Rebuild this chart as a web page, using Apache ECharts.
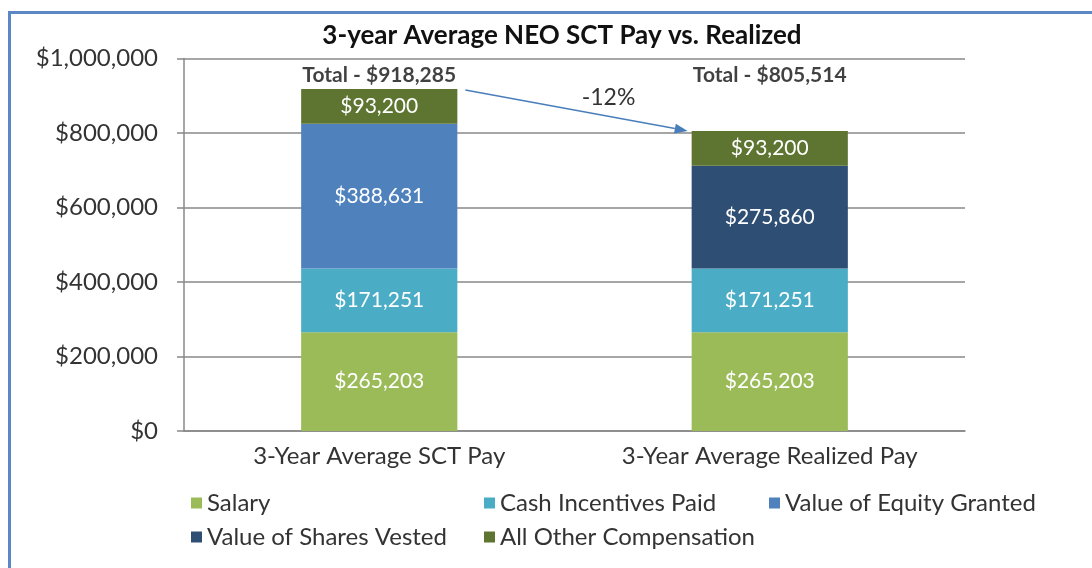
<!DOCTYPE html>
<html>
<head>
<meta charset="utf-8">
<script src="https://cdn.jsdelivr.net/npm/echarts@6/dist/echarts.min.js"></script>
<style>
  html, body { margin: 0; padding: 0; background: #fff; }
  #chart { width: 1092px; height: 568px; }
</style>
</head>
<body>
<div id="chart"></div>
<script>
// Categories and series values
const categories = ['3-Year Average SCT Pay', '3-Year Average Realized Pay'];
const salary = [265203, 265203];
const cashIncentives = [171251, 171251];
const equityGranted = [388631, null];
const sharesVested = [null, 275860];
const otherComp = [93200, 93200];
const yTicks = [0, 200000, 400000, 600000, 800000, 1000000];

const FONT = 'Lato';
const money = v => '$' + Math.round(v).toLocaleString('en-US');

const parts = [salary, cashIncentives, equityGranted, sharesVested, otherComp];
const totals = categories.map((_, i) => parts.reduce((s, a) => s + (a[i] || 0), 0));

const chart = echarts.init(document.getElementById('chart'), null, { renderer: 'canvas' });

function seg(name, data, color) {
  return {
    name, type: 'bar', stack: 'pay', data,
    barWidth: '40%',
    itemStyle: { color },
    label: {
      show: true, position: 'inside', color: '#fff',
      fontFamily: FONT, fontSize: 21,
      formatter: p => (p.value == null ? '' : money(p.value))
    },
    emphasis: { disabled: true }
  };
}

const legendText = { fontFamily: FONT, fontSize: 24, color: '#333' };
const legendBase = {
  orient: 'vertical', top: 486, itemGap: 10,
  itemWidth: 11, itemHeight: 11, icon: 'rect',
  textStyle: legendText, selectedMode: false
};

chart.setOption({
  animation: false,
  backgroundColor: '#fff',
  title: {
    text: '3-year Average NEO SCT Pay vs. Realized',
    left: 557, top: 18, textAlign: 'center',
    textStyle: { fontFamily: FONT, fontSize: 26, fontWeight: 'bold', color: '#111' }
  },
  legend: [
    Object.assign({ left: 186, data: ['Salary', 'Value of Shares Vested'] }, legendBase),
    Object.assign({ left: 479, data: ['Cash Incentives Paid', 'All Other Compensation'] }, legendBase),
    Object.assign({ left: 764, data: ['Value of Equity Granted'] }, legendBase)
  ],
  grid: { left: 184, right: 127, top: 58.5, bottom: 137 },
  xAxis: {
    type: 'category', data: categories,
    axisLine: { lineStyle: { color: '#888', width: 1.5 } },
    axisTick: { show: false },
    axisLabel: { fontFamily: FONT, fontSize: 24, color: '#333', margin: 13 }
  },
  yAxis: {
    type: 'value', min: 0, max: 1000000, interval: 200000,
    axisLine: { show: true, lineStyle: { color: '#888', width: 1.5 } },
    axisTick: { show: true, length: 7, lineStyle: { color: '#888', width: 1.5 } },
    splitLine: { lineStyle: { color: '#888', width: 1.5 } },
    axisLabel: {
      fontFamily: FONT, fontSize: 24, color: '#333', margin: 26,
      customValues: yTicks,
      formatter: v => money(v)
    }
  },
  series: [
    seg('Salary', salary, '#9BBB59'),
    seg('Cash Incentives Paid', cashIncentives, '#4BACC6'),
    seg('Value of Equity Granted', equityGranted, '#4F81BD'),
    seg('Value of Shares Vested', sharesVested, '#2F4E74'),
    seg('All Other Compensation', otherComp, '#5E7532'),
    {
      name: 'Total', type: 'scatter', symbolSize: 0,
      data: totals.map(() => 954000),
      label: {
        show: true, position: 'inside',
        fontFamily: FONT, fontSize: 21, fontWeight: 'bold', color: '#111',
        formatter: p => 'Total - ' + money(totals[p.dataIndex])
      },
      emphasis: { disabled: true }, silent: true
    }
  ]
});

// Frame, change arrow and percentage annotation
function drawAnnotations() {
  const grid = chart.getModel().getComponent('grid').coordinateSystem.getRect();
  const band = grid.width / categories.length;
  const barW = band * 0.4;
  const p1 = chart.convertToPixel({ gridIndex: 0 }, [0, totals[0]]);
  const p2 = chart.convertToPixel({ gridIndex: 0 }, [1, totals[1]]);
  const x1 = p1[0] + barW / 2 + 8, y1 = p1[1] + 1;
  const x2 = p2[0] - barW / 2 - 4, y2 = p2[1];
  const ang = Math.atan2(y2 - y1, x2 - x1);
  const hl = 13, hw = 5;
  const bx = x2 - hl * Math.cos(ang), by = y2 - hl * Math.sin(ang);
  const nx = -Math.sin(ang), ny = Math.cos(ang);
  const change = Math.round((totals[1] / totals[0] - 1) * 100);
  const color = '#4A7EBB';
  chart.setOption({
    graphic: [
      {
        type: 'rect', z: -10, silent: true,
        shape: { x: 9.5, y: 12.5, width: 1200, height: 700 },
        style: { fill: '#fff', stroke: '#5B87C5', lineWidth: 3 }
      },
      {
        type: 'line', silent: true, z: 20,
        shape: { x1, y1, x2: bx, y2: by },
        style: { stroke: color, lineWidth: 1.5 }
      },
      {
        type: 'polygon', silent: true, z: 20,
        shape: { points: [[x2, y2], [bx + nx * hw, by + ny * hw], [bx - nx * hw, by - ny * hw]] },
        style: { fill: color }
      },
      {
        type: 'text', silent: true, z: 20,
        x: (x1 + x2) / 2 + 32, y: (y1 + y2) / 2 - 13,
        style: {
          text: change + '%', fontFamily: FONT, fontSize: 23, fill: '#333',
          align: 'center', verticalAlign: 'middle'
        }
      }
    ]
  });
}
drawAnnotations();
</script>
</body>
</html>
